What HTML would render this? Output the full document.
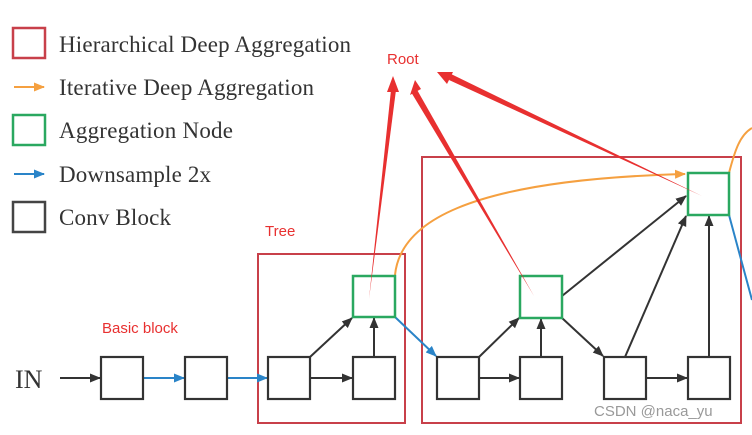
<!DOCTYPE html>
<html><head><meta charset="utf-8"><style>
body{margin:0;background:#fff;width:752px;height:430px;overflow:hidden}
</style></head><body>
<svg width="752" height="430" xmlns="http://www.w3.org/2000/svg" font-family="Liberation Serif, serif">
<defs>
<marker id="k" markerWidth="11" markerHeight="10" refX="10" refY="5" orient="auto" markerUnits="userSpaceOnUse"><path d="M0,0.5 L11,5 L0,9.5z" fill="#333"/></marker>
<marker id="b" markerWidth="11" markerHeight="10" refX="10" refY="5" orient="auto" markerUnits="userSpaceOnUse"><path d="M0,0.5 L11,5 L0,9.5z" fill="#2a84c8"/></marker>
<marker id="o" markerWidth="11" markerHeight="10" refX="10" refY="5" orient="auto" markerUnits="userSpaceOnUse"><path d="M0,0.5 L11,5 L0,9.5z" fill="#f5a040"/></marker>
<marker id="r" markerWidth="16" markerHeight="12" refX="15" refY="6" orient="auto" markerUnits="userSpaceOnUse"><path d="M0,1 L16,6 L0,11z" fill="#e83030"/></marker>
</defs>
<!-- legend -->
<rect x="13" y="28" width="32" height="30" fill="none" stroke="#c8404a" stroke-width="2.5"/>
<text x="59" y="52" font-size="23" fill="#333" textLength="292">Hierarchical Deep Aggregation</text>
<line x1="14" y1="87" x2="44" y2="87" stroke="#f5a040" stroke-width="2" marker-end="url(#o)"/>
<text x="59" y="95" font-size="23" fill="#333" textLength="255">Iterative Deep Aggregation</text>
<rect x="13" y="115" width="32" height="30" fill="none" stroke="#2aa860" stroke-width="2.5"/>
<text x="59" y="138" font-size="23" fill="#333" textLength="174">Aggregation Node</text>
<line x1="14" y1="174" x2="44" y2="174" stroke="#2a84c8" stroke-width="2" marker-end="url(#b)"/>
<text x="59" y="182" font-size="23" fill="#333" textLength="152">Downsample 2x</text>
<rect x="13" y="202" width="32" height="30" fill="none" stroke="#444" stroke-width="2.5"/>
<text x="59" y="225" font-size="23" fill="#333" textLength="112">Conv Block</text>
<!-- red HDA boxes -->
<rect x="258" y="254" width="147" height="169" fill="none" stroke="#c8404a" stroke-width="2"/>
<rect x="422" y="157" width="319" height="266" fill="none" stroke="#c8404a" stroke-width="2"/>
<!-- orange curves -->
<path d="M395,275 C400,225 460,180 685,174" fill="none" stroke="#f5a040" stroke-width="2" marker-end="url(#o)"/>
<path d="M729,173 C735,150 740,135 752,128" fill="none" stroke="#f5a040" stroke-width="2"/>
<!-- blue -->
<line x1="395" y1="317" x2="436" y2="356" stroke="#2a84c8" stroke-width="2" marker-end="url(#b)"/>
<line x1="729" y1="215" x2="752" y2="300" stroke="#2a84c8" stroke-width="2"/>
<line x1="143" y1="378" x2="184" y2="378" stroke="#2a84c8" stroke-width="2" marker-end="url(#b)"/>
<line x1="227" y1="378" x2="267" y2="378" stroke="#2a84c8" stroke-width="2" marker-end="url(#b)"/>
<!-- black arrows -->
<text x="15" y="388" font-size="26" fill="#333">IN</text>
<line x1="60" y1="378" x2="100" y2="378" stroke="#333" stroke-width="2" marker-end="url(#k)"/>
<g stroke="#333" stroke-width="2" fill="none">
<line x1="310" y1="378" x2="352" y2="378" marker-end="url(#k)"/>
<line x1="310" y1="357" x2="352" y2="318" marker-end="url(#k)"/>
<line x1="374" y1="357" x2="374" y2="318" marker-end="url(#k)"/>
<line x1="479" y1="378" x2="519" y2="378" marker-end="url(#k)"/>
<line x1="479" y1="357" x2="519" y2="318" marker-end="url(#k)"/>
<line x1="541" y1="357" x2="541" y2="319" marker-end="url(#k)"/>
<line x1="562" y1="318" x2="603" y2="356" marker-end="url(#k)"/>
<line x1="646" y1="378" x2="687" y2="378" marker-end="url(#k)"/>
<line x1="562" y1="296" x2="686" y2="196" marker-end="url(#k)"/>
<line x1="625" y1="357" x2="686" y2="216" marker-end="url(#k)"/>
<line x1="709" y1="357" x2="709" y2="216" marker-end="url(#k)"/>
</g>
<!-- conv blocks -->
<g fill="#fff" stroke="#333" stroke-width="2.2">
<rect x="101" y="357" width="42" height="42"/><rect x="185" y="357" width="42" height="42"/>
<rect x="268" y="357" width="42" height="42"/><rect x="353" y="357" width="42" height="42"/>
<rect x="437" y="357" width="42" height="42"/><rect x="520" y="357" width="42" height="42"/>
<rect x="604" y="357" width="42" height="42"/><rect x="688" y="357" width="42" height="42"/>
</g>
<g fill="#fff" stroke="#2aa860" stroke-width="2.5">
<rect x="353" y="276" width="42" height="41"/><rect x="520" y="276" width="42" height="42"/>
<rect x="688" y="173" width="41" height="42"/>
</g>
<!-- red annotations (tapered) -->
<g fill="#e83030">
<polygon points="369,299 391,90 396,90"/>
<polygon points="534,296 411,92 416,88"/>
<polygon points="702,196 449,80 451,74"/>
<path d="M393,76 L387,92 L399,92z"/>
<path d="M415,80 L410,95 L421,89z"/>
<path d="M437,72 L447,84 L453,72z"/>
</g>
<g font-family="Liberation Sans, sans-serif" font-size="15" fill="#e83030">
<text x="387" y="64">Root</text>
<text x="265" y="236">Tree</text>
<text x="102" y="333">Basic block</text>
</g>
<text x="594" y="416" font-family="Liberation Sans, sans-serif" font-size="15" fill="#999">CSDN @naca_yu</text>
</svg>
</body></html>
